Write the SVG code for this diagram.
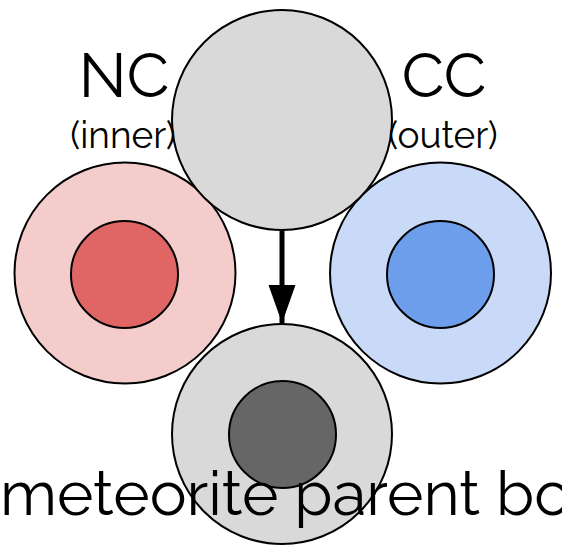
<svg xmlns="http://www.w3.org/2000/svg" width="562" height="549" viewBox="0 0 562 549">
  <style>
    .ring { stroke: #000; stroke-width: 2; }
    .label { font-family: Raleway, Lato, "Open Sans", sans-serif; font-weight: 400; fill: #000; text-anchor: middle; }
  </style>
  <defs>
    <marker id="head" markerWidth="8" markerHeight="8" refX="7.6" refY="4" orient="auto" markerUnits="strokeWidth">
      <path d="M0,1.3 L7.6,4 L0,6.7 Z" fill="#000"/>
    </marker>
  </defs>
  <rect width="562" height="549" fill="#fff"/>

  <g id="nc">
    <circle class="ring" cx="125" cy="273" r="110.5" fill="#f4cccc"/>
    <circle class="ring" cx="124.5" cy="274.5" r="53.5" fill="#e06666"/>
  </g>
  <g id="cc">
    <circle class="ring" cx="440.5" cy="273" r="110.5" fill="#c9daf8"/>
    <circle class="ring" cx="440.5" cy="274.5" r="53.5" fill="#6d9eeb"/>
  </g>
  <g id="source">
    <circle class="ring" cx="282" cy="120" r="110" fill="#d9d9d9"/>
  </g>
  <g id="parent-body">
    <circle class="ring" cx="282" cy="434" r="110" fill="#d9d9d9"/>
    <circle class="ring" cx="282.5" cy="434.5" r="53.5" fill="#666666"/>
  </g>

  <g id="connectors">
    <line x1="282" y1="231" x2="282" y2="323" stroke="#000" stroke-width="5" marker-end="url(#head)"/>
  </g>

  <g id="labels">
    <text class="label" x="124" y="97" font-size="62">NC</text>
    <text class="label" x="123" y="148" font-size="37">(inner)</text>
    <text class="label" x="444" y="97" font-size="62">CC</text>
    <text class="label" x="443" y="148" font-size="37">(outer)</text>
    <text class="label" x="0" y="515" font-size="62" style="text-anchor:start">meteorite parent body</text>
  </g>
</svg>
